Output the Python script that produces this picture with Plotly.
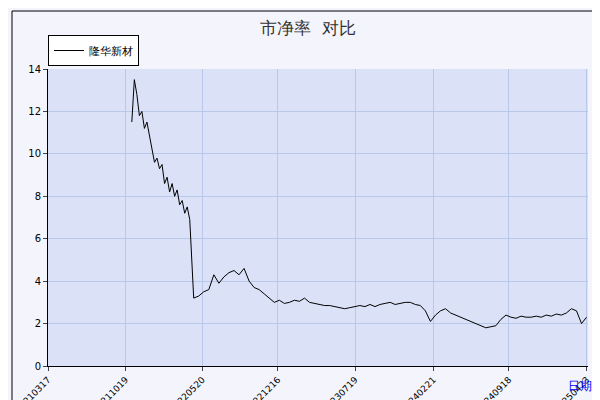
import pandas as pd
import plotly.graph_objects as go

series_name = "隆华新材"
early_start = "2021-11-05"
early_vals = [11.5,13.5,12.8,11.8,12.0,11.2,11.5,10.8,10.2,9.6,9.8,9.3,9.5,8.6,8.9,8.2,8.6,8.0,8.3,7.6,7.8,7.2,7.5,6.9]
late_start = "2022-04-26"
late_vals = [3.2,3.3,3.5,3.6,4.3,3.9,4.2,4.4,4.5,4.3,4.6,4.0,3.7,3.6,3.4,3.2,3.0,3.1,2.95,3.0,3.1,
             3.05,3.2,3.0,2.95,2.9,2.85,2.85,2.8,2.75,2.7,2.75,2.8,2.85,2.8,2.9,2.8,2.9,2.95,3.0,2.9,
             2.95,3.0,3.0,2.9,2.85,2.6,2.1,2.4,2.6,2.7,2.5,2.4,2.3,2.2,2.1,2.0,1.9,1.8,1.85,1.9,2.2,
             2.4,2.3,2.25,2.35,2.3,2.3,2.35,2.3,2.4,2.35,2.45,2.4,2.5,2.7,2.6,2.0,2.3]
tick_labels = ["20210317","20211019","20220520","20221216","20230719","20240221","20240918","20250423"]

x = list(pd.date_range(early_start, periods=len(early_vals), freq="7D")) + \
    list(pd.date_range(late_start, periods=len(late_vals), freq="14D"))
y = early_vals + late_vals
tickvals = [pd.Timestamp(t) for t in tick_labels]

# plot area: x 40..580, y 61..358
W, H, L, R, T, B = 600, 400, 40, 20, 61, 42
pw, ph = W - L - R, H - T - B
def px(v): return (v - L) / pw
def py(v): return (H - B - v) / ph

fig = go.Figure(go.Scatter(x=x, y=y, mode="lines", name=series_name,
                           line=dict(color="black", width=1)))
fig.update_layout(
    width=W, height=H, margin=dict(l=L, r=R, t=T, b=B, autoexpand=False),
    paper_bgcolor="#f4f5fc", plot_bgcolor="#dbe2f7",
    font=dict(family="DejaVu Sans", size=10, color="black"),
    title=dict(text="市净率  对比", x=0.5, y=0.965, xanchor="center", font=dict(size=17, color="#333")),
    showlegend=True,
    legend=dict(x=0.0, y=1.01, xanchor="left", yanchor="bottom", bgcolor="white",
                bordercolor="black", borderwidth=1, font=dict(size=11),
                itemwidth=30, tracegroupgap=0),
    xaxis=dict(range=[pd.Timestamp("2021-03-17"), pd.Timestamp("2025-04-26")],
               tickvals=tickvals, ticktext=tick_labels, tickangle=-45, automargin=False,
               showgrid=True, gridcolor="#b8c7ea", ticks="outside", ticklen=4,
               showline=True, linecolor="black", tickfont=dict(size=9)),
    yaxis=dict(range=[0, 14], dtick=2, showgrid=True, gridcolor="#b8c7ea", automargin=False,
               ticks="outside", ticklen=4, showline=True, linecolor="black",
               zeroline=False, tickfont=dict(size=10)),
    shapes=[dict(type="rect", xref="paper", yref="paper", x0=px(4), x1=px(594),
                 y0=py(394), y1=py(3), line=dict(color="black", width=1))],
    annotations=[dict(text="日期", xref="paper", yref="paper", x=px(572), y=py(387),
                      showarrow=False, xanchor="center", yanchor="bottom",
                      font=dict(color="blue", size=12))],
)
fig.write_html("out.html")
